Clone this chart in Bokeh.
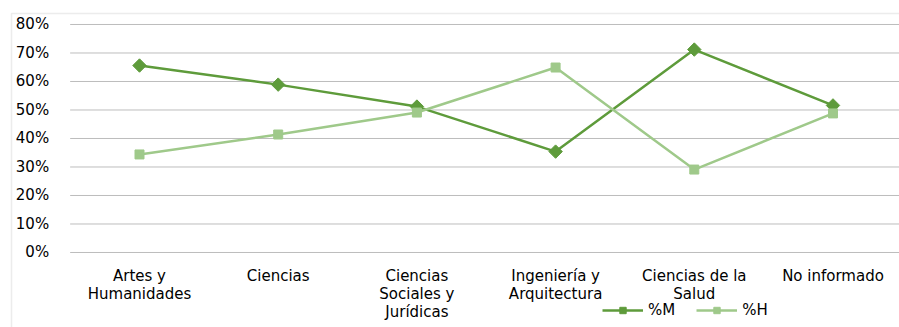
import math
from bokeh.plotting import figure
from bokeh.models import (Legend, LegendItem, BoxAnnotation, Range1d, ColumnDataSource)
from bokeh.core.properties import value
from bokeh.embed import file_html
from bokeh.resources import INLINE

categories = ["Artes y\nHumanidades", "Ciencias", "Ciencias\nSociales y\nJurídicas",
              "Ingeniería y\nArquitectura", "Ciencias de la\nSalud", "No informado"]
pct_m = [0.656, 0.589, 0.512, 0.354, 0.712, 0.516]
pct_h = [0.344, 0.414, 0.491, 0.649, 0.291, 0.488]
y_ticks = [0, 0.1, 0.2, 0.3, 0.4, 0.5, 0.6, 0.7, 0.8]
y_tick_labels = ["0%", "10%", "20%", "30%", "40%", "50%", "60%", "70%", "80%"]

DARK = "#5E9B3B"
LIGHT = "#9FC98A"
GRID = "#BDBDBD"
FONT = "DejaVu Sans"

n = len(categories)
x = list(range(n))

# Frame covers the whole canvas; plot area in data coords is x in [-0.5, n-0.5], y in [0, 0.8]
p = figure(width=899, height=327, output_backend="svg", toolbar_location=None,
           x_range=Range1d(-1.0022, 5.4795), y_range=Range1d(-0.2632, 0.8842),
           min_border=0)
p.min_border_left = 0
p.min_border_right = 0
p.min_border_top = 0
p.min_border_bottom = 0
p.outline_line_color = None
p.xaxis.visible = False
p.yaxis.visible = False
p.grid.visible = False
p.background_fill_color = "white"
p.border_fill_color = "white"

# horizontal gridlines
grid_src = ColumnDataSource(dict(x0=[-0.5] * len(y_ticks), x1=[n - 0.5] * len(y_ticks), y=y_ticks))
p.segment(x0="x0", y0="y", x1="x1", y1="y", source=grid_src, line_color=GRID, line_width=1)

# y tick labels
p.text(x=[-0.5] * len(y_ticks), y=y_ticks, text=y_tick_labels, x_offset=-21,
       text_align="right", text_baseline="middle", text_font=value(FONT),
       text_font_size="15px", text_color="#000000")

# x category labels
p.text(x=x, y=[y_ticks[0]] * n, text=categories, y_offset=15,
       text_align="center", text_baseline="top", text_font=value(FONT),
       text_font_size="15px", text_color="#000000", text_line_height=0.98)

lm = p.line(x, pct_m, line_color=DARK, line_width=2.5)
sm = p.scatter(x, pct_m, marker="square", size=9.5, angle=math.pi / 4,
               fill_color=DARK, line_color=DARK)
lh = p.line(x, pct_h, line_color=LIGHT, line_width=2.5)
sh = p.scatter(x, pct_h, marker="square", size=9, fill_color=LIGHT, line_color=LIGHT)

legend = Legend(items=[LegendItem(label="%M", renderers=[lm, sm]),
                       LegendItem(label="%H", renderers=[lh, sh])],
                location=(602, 8), orientation="horizontal",
                padding=0, margin=0, spacing=21, glyph_width=41, glyph_height=16,
                label_height=16, label_standoff=5, label_text_font=FONT,
                label_text_font_size="15px", label_text_color="#000000",
                border_line_color=None, background_fill_alpha=0)
p.add_layout(legend, "center")

border = BoxAnnotation(left=11, right=3000, top=13, bottom=3000,
                       left_units="canvas", right_units="canvas",
                       top_units="canvas", bottom_units="canvas",
                       fill_alpha=0, line_color="#BFBFBF", line_width=1.5)
p.add_layout(border)

open("out.html", "w").write(file_html(p, INLINE))
